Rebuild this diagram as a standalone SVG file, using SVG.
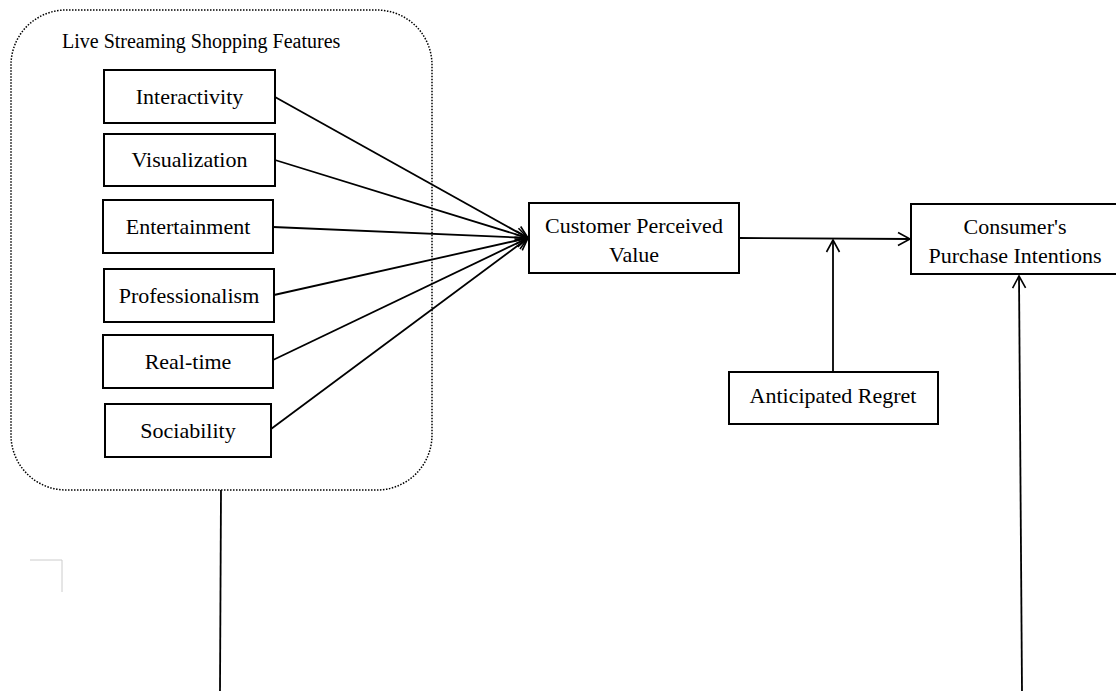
<svg xmlns="http://www.w3.org/2000/svg" width="1116" height="691" viewBox="0 0 1116 691">
<defs>
<marker id="arr" markerWidth="16" markerHeight="16" refX="13" refY="8" orient="auto" markerUnits="userSpaceOnUse">
<path d="M1,1.5 L13,8 L1,14.5" fill="none" stroke="#000" stroke-width="1.6"/>
</marker>
<style>
.box{fill:#fff;stroke:#000;stroke-width:2}
.lbl{font-family:"Liberation Serif","Times New Roman",serif;font-size:22px;fill:#000;text-anchor:middle}
.ln{stroke:#000;stroke-width:1.8;fill:none}
</style>
</defs>
<rect width="1116" height="691" fill="#fff"/>
<g id="group-features">
<rect x="11" y="10" width="421" height="480" rx="55" ry="55" fill="none" stroke="#000" stroke-width="1.5" stroke-dasharray="1.5,1.5"/>
<text x="62" y="48" style="font-family:'Liberation Serif','Times New Roman',serif;font-size:20px;fill:#000">Live Streaming Shopping Features</text>
</g>
<g id="n-interactivity"><rect class="box" x="104" y="70" width="171" height="53"/><text class="lbl" x="189.5" y="104">Interactivity</text></g>
<g id="n-visualization"><rect class="box" x="104" y="134" width="171" height="52"/><text class="lbl" x="189.5" y="167">Visualization</text></g>
<g id="n-entertainment"><rect class="box" x="103" y="200" width="170" height="53"/><text class="lbl" x="188" y="234">Entertainment</text></g>
<g id="n-professionalism"><rect class="box" x="104" y="269" width="170" height="53"/><text class="lbl" x="189" y="303">Professionalism</text></g>
<g id="n-realtime"><rect class="box" x="103" y="335" width="170" height="53"/><text class="lbl" x="188" y="369">Real-time</text></g>
<g id="n-sociability"><rect class="box" x="105" y="404" width="166" height="53"/><text class="lbl" x="188" y="438">Sociability</text></g>
<g id="n-cpv"><rect class="box" x="529" y="203" width="210" height="70"/><text class="lbl" x="634" y="233">Customer Perceived</text><text class="lbl" x="634" y="262">Value</text></g>
<g id="n-cpi"><rect class="box" x="911" y="204" width="210" height="70"/><text class="lbl" x="1015" y="234">Consumer's</text><text class="lbl" x="1015" y="263">Purchase Intentions</text></g>
<g id="n-regret"><rect class="box" x="729" y="372" width="209" height="52"/><text class="lbl" x="833" y="403">Anticipated Regret</text></g>
<g id="connectors">
<line class="ln" x1="275" y1="97" x2="528" y2="238" marker-end="url(#arr)"/>
<line class="ln" x1="275" y1="160" x2="528" y2="238" marker-end="url(#arr)"/>
<line class="ln" x1="273" y1="227" x2="528" y2="238" marker-end="url(#arr)"/>
<line class="ln" x1="274" y1="295" x2="528" y2="238" marker-end="url(#arr)"/>
<line class="ln" x1="273" y1="360" x2="528" y2="238" marker-end="url(#arr)"/>
<line class="ln" x1="271" y1="429" x2="528" y2="238" marker-end="url(#arr)"/>
<line class="ln" x1="739" y1="238" x2="910" y2="239" marker-end="url(#arr)"/>
<line class="ln" x1="833" y1="372" x2="833" y2="240" marker-end="url(#arr)"/>
<line class="ln" x1="221" y1="490" x2="220" y2="691"/>
<line class="ln" x1="1022" y1="691" x2="1019" y2="276" marker-end="url(#arr)"/>
</g>
<path d="M30,560 H62 V592" fill="none" stroke="#ccc" stroke-width="1"/>
</svg>
